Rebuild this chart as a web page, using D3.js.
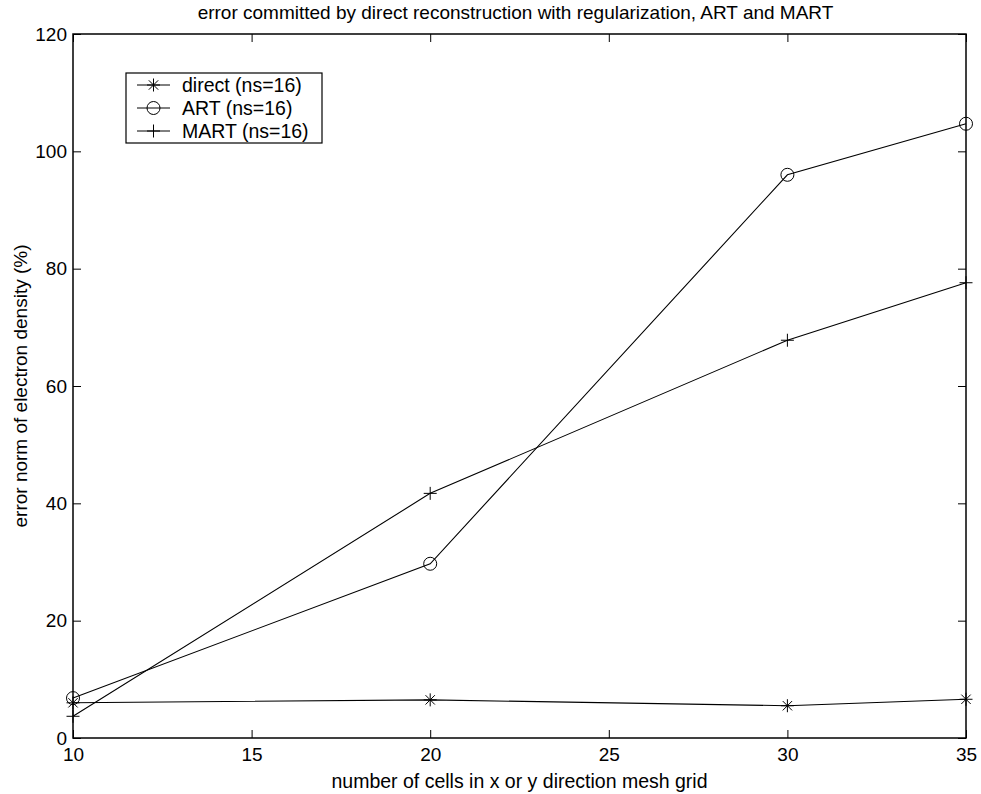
<!DOCTYPE html>
<html>
<head>
<meta charset="utf-8">
<script src="https://cdn.jsdelivr.net/npm/d3@7"></script>
<style>
  body { margin: 0; background: #fff; }
  text { font-family: "Liberation Sans", Arial, Helvetica, sans-serif; fill: #000; }
</style>
</head>
<body>
<div id="chart"></div>
<script>
// Data

const cells = [10, 20, 30, 35];
const directErr = [6.0, 6.5, 5.5, 6.6];
const artErr = [6.8, 29.7, 96.0, 104.7];
const martErr = [3.7, 41.7, 67.8, 77.6];
const xTicks = [10, 15, 20, 25, 30, 35];
const yTicks = [0, 20, 40, 60, 80, 100, 120];

const series = [
  { name: 'direct (ns=16)', values: directErr, marker: 'star' },
  { name: 'ART (ns=16)', values: artErr, marker: 'circle' },
  { name: 'MART (ns=16)', values: martErr, marker: 'plus' },
];

const width = 981;
const height = 794;
const margin = { top: 34, right: 15, bottom: 56, left: 73 };
const plotW = width - margin.left - margin.right;
const plotH = height - margin.top - margin.bottom;

const svg = d3.select('#chart').append('svg')
  .attr('width', width)
  .attr('height', height);

const g = svg.append('g')
  .attr('transform', `translate(${margin.left}, ${margin.top})`);

const x = d3.scaleLinear().domain([10, 35]).range([0, plotW]);
const y = d3.scaleLinear().domain([0, 120]).range([plotH, 0]);

// Axes: MATLAB style, ticks pointing inwards on all four sides
const tickLen = 8;

g.append('g')
  .attr('transform', `translate(0, ${plotH})`)
  .call(d3.axisBottom(x).tickValues(xTicks).tickSize(-tickLen).tickPadding(10).tickSizeOuter(0));
g.append('g')
  .call(d3.axisTop(x).tickValues(xTicks).tickSize(-tickLen).tickFormat('').tickSizeOuter(0));
g.append('g')
  .call(d3.axisLeft(y).tickValues(yTicks).tickSize(-tickLen).tickPadding(6).tickSizeOuter(0));
g.append('g')
  .attr('transform', `translate(${plotW}, 0)`)
  .call(d3.axisRight(y).tickValues(yTicks).tickSize(-tickLen).tickFormat('').tickSizeOuter(0));

g.selectAll('.domain').remove();
g.selectAll('.tick line').attr('stroke', '#000');
g.selectAll('.tick text').attr('font-size', 19);

g.append('rect')
  .attr('width', plotW)
  .attr('height', plotH)
  .attr('fill', 'none')
  .attr('stroke', '#000')
  .attr('stroke-width', 1.5);

// Marker drawing
function drawMarker(sel, type, r) {
  if (type === 'circle') {
    sel.append('circle').attr('r', r).attr('fill', 'none').attr('stroke', '#000');
  } else if (type === 'plus') {
    sel.append('path').attr('d', `M${-r},0H${r}M0,${-r}V${r}`).attr('stroke', '#000');
  } else {
    const d = r * 0.72;
    sel.append('path')
      .attr('d', `M${-r},0H${r}M0,${-r}V${r}M${-d},${-d}L${d},${d}M${-d},${d}L${d},${-d}`)
      .attr('stroke', '#000');
  }
}

const line = d3.line()
  .x((d, i) => x(cells[i]))
  .y(d => y(d));

series.forEach(s => {
  g.append('path')
    .datum(s.values)
    .attr('d', line)
    .attr('fill', 'none')
    .attr('stroke', '#000')
    .attr('stroke-width', 1.1);

  s.values.forEach((v, i) => {
    const m = g.append('g').attr('transform', `translate(${x(cells[i])}, ${y(v)})`);
    drawMarker(m, s.marker, 6.5);
  });
});

// Legend
const legend = svg.append('g').attr('transform', 'translate(126, 73)');
legend.append('rect')
  .attr('width', 196)
  .attr('height', 70)
  .attr('fill', '#fff')
  .attr('stroke', '#000')
  .attr('stroke-width', 1.2);

series.forEach((s, i) => {
  const row = legend.append('g').attr('transform', `translate(0, ${12 + i * 23})`);
  row.append('line')
    .attr('x1', 11).attr('x2', 44)
    .attr('stroke', '#000');
  drawMarker(row.append('g').attr('transform', 'translate(27.5, 0)'), s.marker, 6.5);
  row.append('text')
    .attr('x', 56)
    .attr('dy', '0.36em')
    .attr('font-size', 19.5)
    .text(s.name);
});

// Titles
svg.append('text')
  .attr('x', margin.left + plotW / 2 - 4)
  .attr('y', 19)
  .attr('text-anchor', 'middle')
  .attr('font-size', 19)
  .text('error committed by direct reconstruction with regularization, ART and MART');

svg.append('text')
  .attr('x', margin.left + plotW / 2)
  .attr('y', 788)
  .attr('text-anchor', 'middle')
  .attr('font-size', 19.5)
  .text('number of cells in x or y direction mesh grid');

svg.append('text')
  .attr('transform', `translate(27, ${margin.top + plotH / 2}) rotate(-90)`)
  .attr('text-anchor', 'middle')
  .attr('font-size', 19)
  .text('error norm of electron density (%)');
</script>
</body>
</html>
